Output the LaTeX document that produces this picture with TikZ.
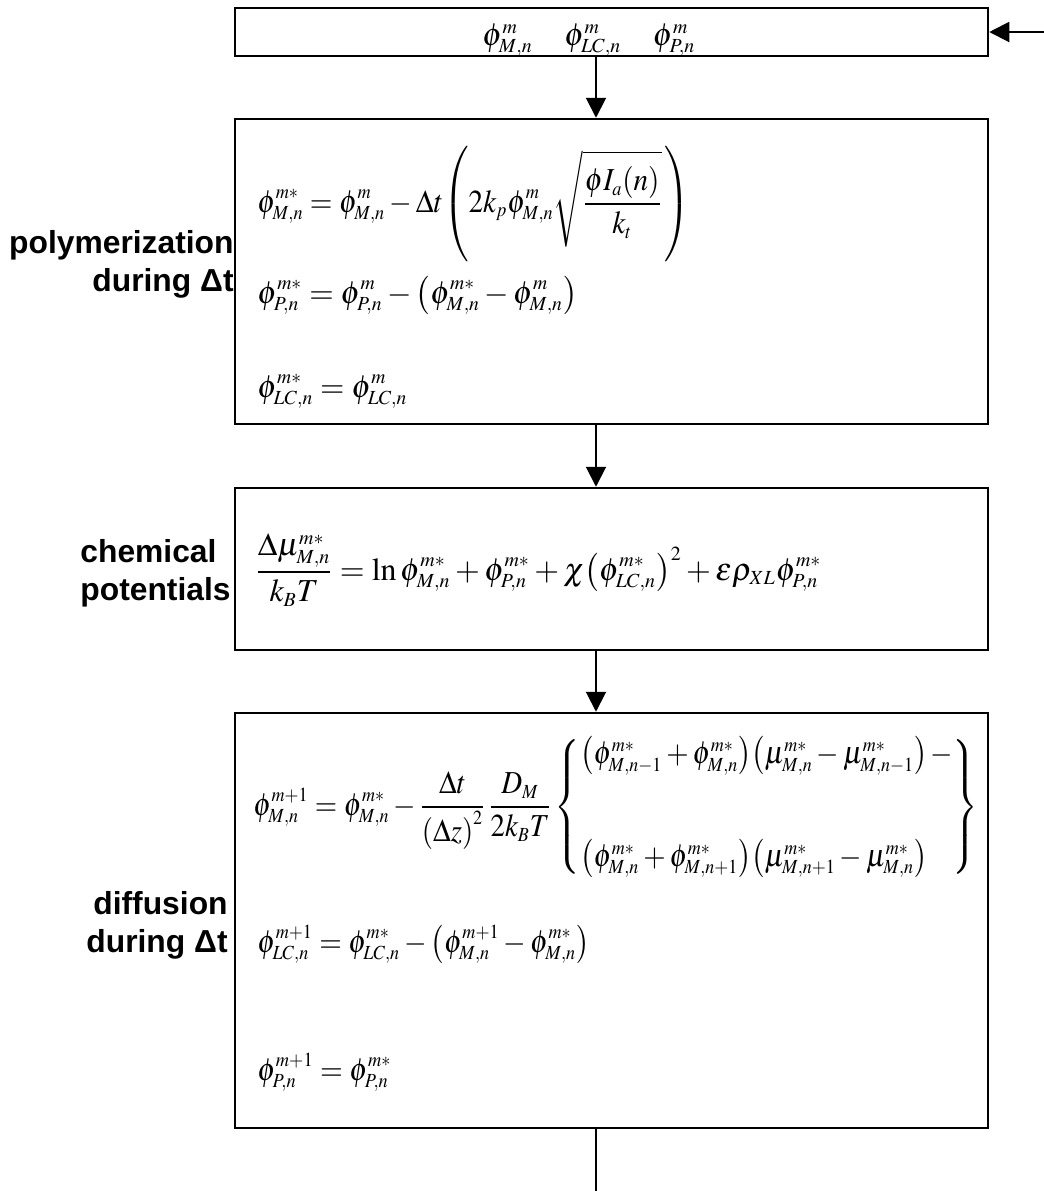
\documentclass[tikz,border=0pt]{standalone}
\usepackage{mathptmx}
\usepackage[no-math]{fontspec}
\newfontfamily\labfont{Liberation Sans}
\usepackage{graphicx}
\usetikzlibrary{arrows.meta}
\DeclareMathSizes{16}{16}{10}{7}
\begin{document}
\begin{tikzpicture}[x=0.5pt,y=-0.5pt,
  box/.style={draw, line width=1.25pt, minimum width=376.5pt, inner sep=0pt},
  eq/.style={anchor=base west, inner sep=0pt, font=\fontsize{16}{19.2}\selectfont},
  lab/.style={anchor=base east, align=right, inner sep=0pt, font=\labfont\bfseries\fontsize{15.9}{18.7}\selectfont},
  arr/.style={line width=1pt, -{Triangle[length=10pt,width=10pt]}},
  ln/.style={line width=1pt}]
\path[fill=white] (0,0) rectangle (1044,1191);
\useasboundingbox (0,0) rectangle (1044,1191);
% boxes
\node[box, minimum height=24pt] (top) at (611.5,32) {};
\node[box, minimum height=152.5pt] (b2) at (611.5,271.5) {};
\node[box, minimum height=81pt] (b3) at (611.5,569) {};
\node[box, minimum height=207.5pt] (b4) at (611.5,920.5) {};
\coordinate (ax) at (596,0);
\coordinate (in) at (1044,32);
\coordinate (out) at (596,1191);
% top box text
\node[eq] (t0) at (482,45) {\resizebox{106.5pt}{\height}{$\phi^{m}_{M,n}\quad\phi^{m}_{LC,n}\quad\phi^{m}_{P,n}$}};
% box 2
\node[eq] (e21) at (257,212) {\resizebox{216.5pt}{\height}{\delimiterfactor=780 $\displaystyle \phi^{m*}_{M,n} = \phi^{m}_{M,n} - \Delta t\!\left(2k_p\phi^{m}_{M,n}\sqrt{\frac{\phi I_a(n)}{k_t}}\,\right)$}};
\node[eq] (e22) at (257,303) {\resizebox{160pt}{\height}{$\displaystyle \phi^{m*}_{P,n} = \phi^{m}_{P,n} - \left(\phi^{m*}_{M,n} - \phi^{m}_{M,n}\right)$}};
\node[eq] (e23) at (257,397) {\resizebox{75pt}{\height}{$\displaystyle \phi^{m*}_{LC,n} = \phi^{m}_{LC,n}$}};
% box 3
\node[eq] (e31) at (255,580) {\resizebox{283pt}{\height}{$\displaystyle \frac{\Delta\mu^{m*}_{M,n}}{k_BT} = \ln\phi^{m*}_{M,n} + \phi^{m*}_{P,n} + \chi\!\left(\phi^{m*}_{LC,n}\right)^2 + \varepsilon\rho_{XL}\phi^{m*}_{P,n}$}};
% box 4
\node[eq] (e41) at (253,815) {\resizebox{362.5pt}{\height}{$\displaystyle \phi^{m+1}_{M,n} = \phi^{m*}_{M,n} - \frac{\Delta t}{\left(\Delta z\right)^2}\,\frac{D_M}{2k_BT}\left\{\begin{array}{@{}l@{}}
 \left(\phi^{m*}_{M,n-1} + \phi^{m*}_{M,n}\right)\!\left(\mu^{m*}_{M,n} - \mu^{m*}_{M,n-1}\right) - \\[32pt]
 \left(\phi^{m*}_{M,n} + \phi^{m*}_{M,n+1}\right)\!\left(\mu^{m*}_{M,n+1} - \mu^{m*}_{M,n}\right)
 \end{array}\right\}$}};
\node[eq] (e42) at (257,952) {\resizebox{166pt}{\height}{$\displaystyle \phi^{m+1}_{LC,n} = \phi^{m*}_{LC,n} - \left(\phi^{m+1}_{M,n} - \phi^{m*}_{M,n}\right)$}};
\node[eq] (e43) at (257,1080) {\resizebox{67pt}{\height}{$\displaystyle \phi^{m+1}_{P,n} = \phi^{m*}_{P,n}$}};
% labels (base anchor = last line baseline)
\node[lab] (l2) at (234,291) {polymerization\\during Δt};
\node[lab, anchor=base west, align=left] (l3) at (80,600) {chemical\\potentials};
\node[lab] (l4) at (228,952) {diffusion\\during Δt};
% connectors
\draw[arr] (in) -- (top.east);
\draw[arr] (top.south -| ax) -- (b2.north -| ax);
\draw[arr] (b2.south -| ax) -- (b3.north -| ax);
\draw[arr] (b3.south -| ax) -- (b4.north -| ax);
\draw[ln] (b4.south -| ax) -- (out);
\end{tikzpicture}
\end{document}
